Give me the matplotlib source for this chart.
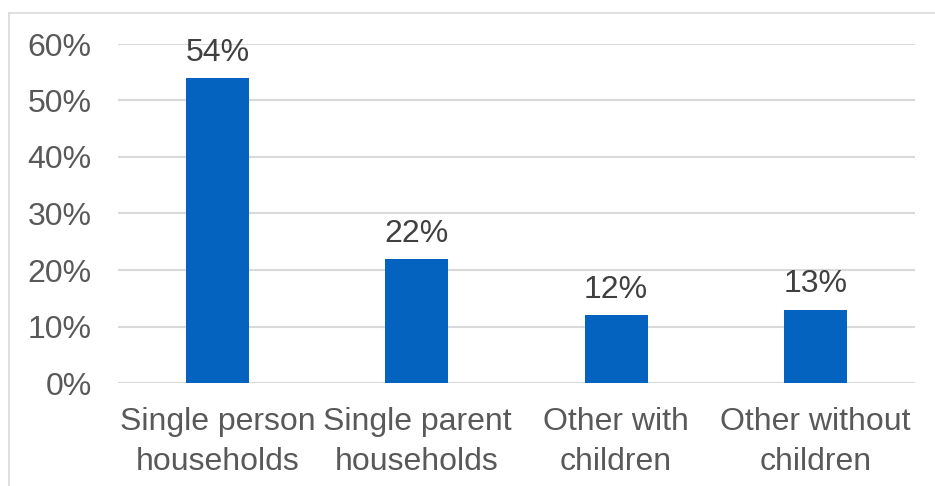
import numpy as np
import matplotlib
matplotlib.use('Agg')
import matplotlib.pyplot as plt
from matplotlib.lines import Line2D
from matplotlib.ticker import FuncFormatter

categories = ['Single person\nhouseholds', 'Single parent\nhouseholds',
              'Other with\nchildren', 'Other without\nchildren']
shares = [54, 22, 12, 13]
y_ticks = [0, 10, 20, 30, 40, 50, 60]

plt.rcParams['font.family'] = ['Liberation Sans', 'DejaVu Sans']

fig = plt.figure(figsize=(9.35, 4.86), dpi=100)
ax = fig.add_axes([118 / 935, 1 - 383 / 486, (915 - 118) / 935, (383 - 44) / 486])

x = np.arange(len(categories))
ax.bar(x, shares, width=0.316, color='#0563C0', zorder=3)
for xi, v in zip(x, shares):
    ax.text(xi, v + 1.8, f'{v}%', ha='center', va='bottom',
            fontsize=23, color='#404040')

ax.set_xlim(-0.5, len(categories) - 0.5)
ax.set_ylim(0, 60)
ax.set_yticks(y_ticks)
ax.yaxis.set_major_formatter(FuncFormatter(lambda v, p: f'{v:.0f}%'))
ax.set_xticks(x)
ax.set_xticklabels(categories, linespacing=1.4)
ax.tick_params(axis='y', length=0, pad=19, labelsize=23, labelcolor='#595959')
ax.tick_params(axis='x', length=0, pad=17.5, labelsize=23, labelcolor='#595959')
ax.grid(axis='y', color='#d9d9d9', linewidth=1.5, zorder=0)
for s in ax.spines.values():
    s.set_visible(False)

# outer chart frame (top and left edges)
fig.add_artist(Line2D([9 / 935, 1], [1 - 13 / 486] * 2, color='#d9d9d9', linewidth=1.2))
fig.add_artist(Line2D([9 / 935] * 2, [0, 1 - 13 / 486], color='#d9d9d9', linewidth=1.2))

fig.savefig('out.png', dpi=100)
